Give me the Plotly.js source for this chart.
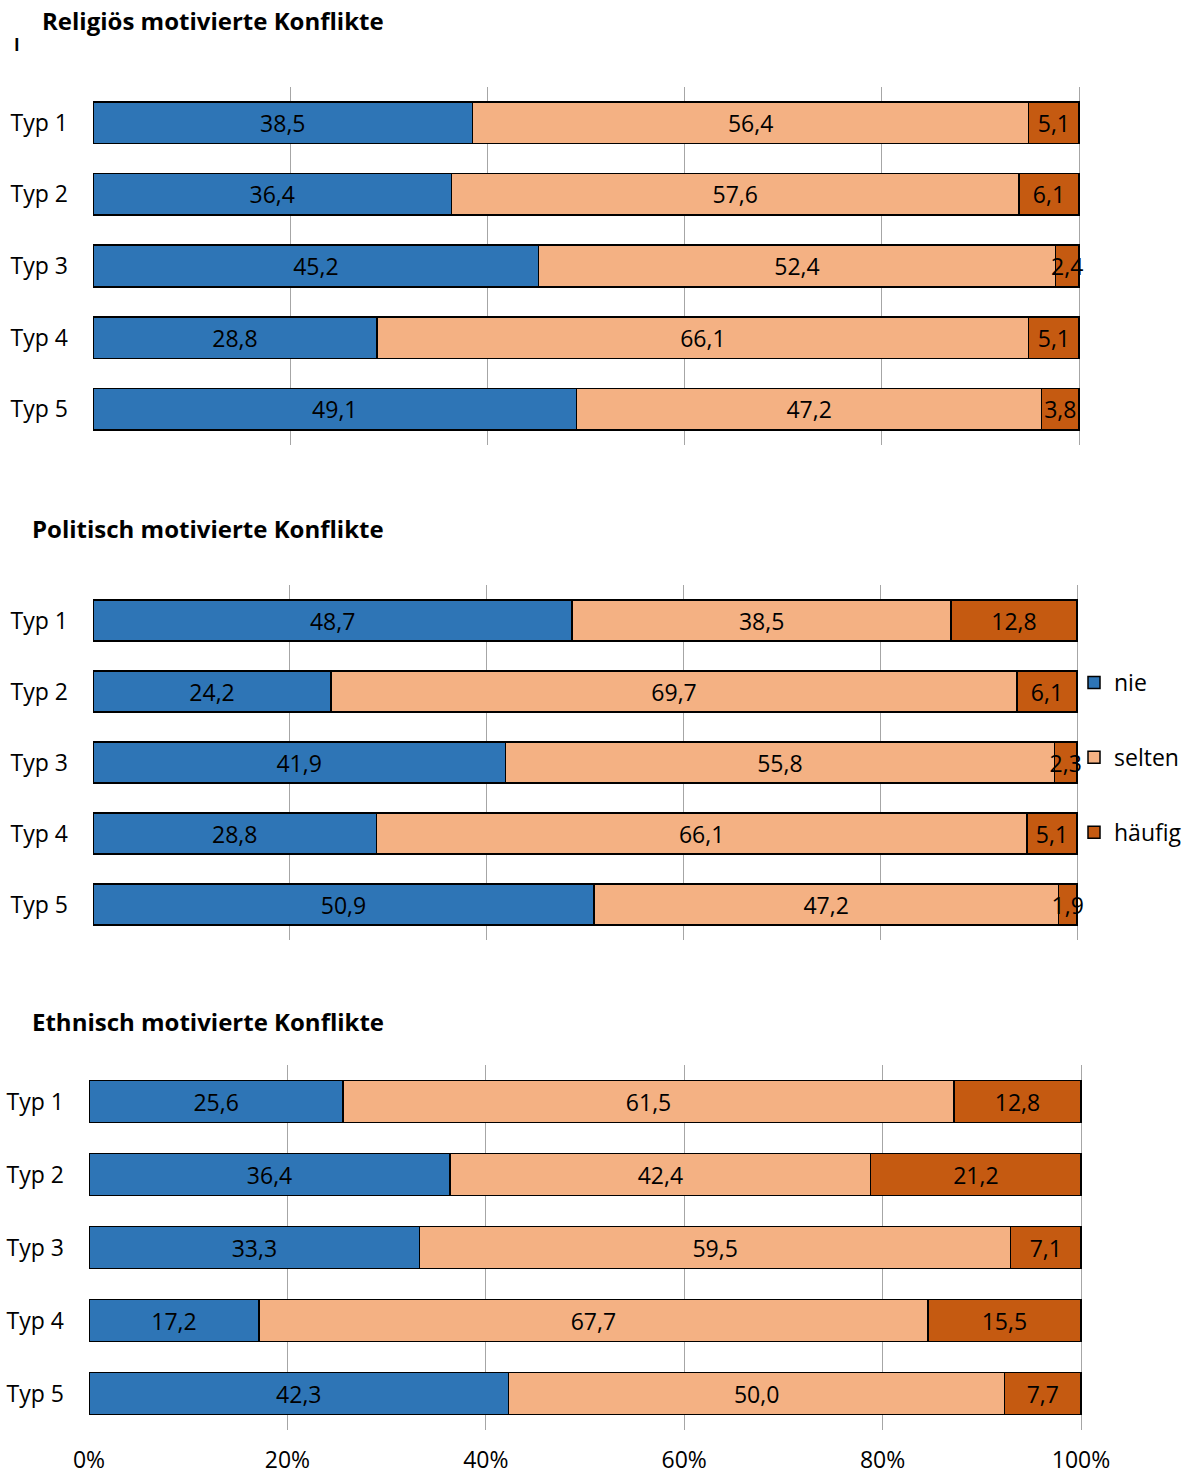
<!DOCTYPE html>
<html>
<head>
<meta charset="utf-8">
<script src="https://cdn.plot.ly/plotly-3.0.1.min.js"></script>
<style>html,body{margin:0;padding:0;background:#fff;}</style>
</head>
<body>
<div id="chart" style="width:1196px;height:1475px;"></div>
<script>
const categories = ["Typ 1", "Typ 2", "Typ 3", "Typ 4", "Typ 5"];
const seriesNames = ["nie", "selten", "häufig"];
const seriesColors = ["#2E75B6", "#F4B183", "#C55A11"];
const panelTitles = ["Religiös motivierte Konflikte", "Politisch motivierte Konflikte", "Ethnisch motivierte Konflikte"];

const religNie    = [38.5, 36.4, 45.2, 28.8, 49.1];
const religSelten = [56.4, 57.6, 52.4, 66.1, 47.2];
const religHaeufig= [5.1, 6.1, 2.4, 5.1, 3.8];

const politNie    = [48.7, 24.2, 41.9, 28.8, 50.9];
const politSelten = [38.5, 69.7, 55.8, 66.1, 47.2];
const politHaeufig= [12.8, 6.1, 2.3, 5.1, 1.9];

const ethnNie     = [25.6, 36.4, 33.3, 17.2, 42.3];
const ethnSelten  = [61.5, 42.4, 59.5, 67.7, 50.0];
const ethnHaeufig = [12.8, 21.2, 7.1, 15.5, 7.7];

const tickVals = [0, 20, 40, 60, 80, 100];
const tickText = ["0%", "20%", "40%", "60%", "80%", "100%"];

const FONT = "'Open Sans', sans-serif";
const FS = 23;
const W = 1196, H = 1475;
const panels = [
  [religNie, religSelten, religHaeufig],
  [politNie, politSelten, politHaeufig],
  [ethnNie, ethnSelten, ethnHaeufig]
];
// pixel geometry of each plot area (0% .. 100%)
const geo = [
  {x0: 93, x1: 1079, y0: 87, y1: 445},
  {x0: 93, x1: 1077, y0: 585, y1: 940},
  {x0: 89, x1: 1081, y0: 1065, y1: 1430}
];
const XMAX = 100.8; // small extra room so overflowing labels are not clipped
const fmt = v => v.toFixed(1).replace(".", ",");

const traces = [];
panels.forEach((vals, p) => {
  vals.forEach((arr, s) => {
    traces.push({
      type: "bar",
      orientation: "h",
      y: categories,
      x: arr,
      name: seriesNames[s],
      legendgroup: seriesNames[s],
      showlegend: p === 0,
      xaxis: p === 0 ? "x" : "x" + (p + 1),
      yaxis: p === 0 ? "y" : "y" + (p + 1),
      marker: {color: seriesColors[s], line: {color: "#000", width: 1.5}},
      text: arr.map(fmt),
      texttemplate: "%{text}",
      textposition: "inside",
      insidetextanchor: "middle",
      constraintext: "none",
      textangle: 0,
      textfont: {family: FONT, size: FS, color: "#000"},
      hoverinfo: "skip"
    });
  });
});

const layout = {
  width: W, height: H,
  margin: {l: 0, r: 0, t: 0, b: 0},
  paper_bgcolor: "#fff", plot_bgcolor: "#fff",
  barmode: "stack",
  barnorm: "percent",
  bargap: 0.42,
  font: {family: FONT, size: FS, color: "#000"},
  showlegend: true,
  legend: {
    x: 1074 / W, y: 1 - 661 / H, xanchor: "left", yanchor: "top",
    font: {family: FONT, size: FS, color: "#000"},
    tracegroupgap: 42, traceorder: "grouped",
    bgcolor: "rgba(0,0,0,0)"
  },
  annotations: [],
  uniformtext: {mode: false}
};

geo.forEach((g, p) => {
  const xa = p === 0 ? "xaxis" : "xaxis" + (p + 1);
  const ya = p === 0 ? "yaxis" : "yaxis" + (p + 1);
  const x1 = g.x0 + (g.x1 - g.x0) * XMAX / 100;
  layout[xa] = {
    domain: [g.x0 / W, x1 / W],
    range: [0, XMAX],
    anchor: p === 0 ? "y" : "y" + (p + 1),
    tickvals: tickVals,
    ticktext: tickText,
    showticklabels: p === 2,
    showgrid: true, gridcolor: "#a6a6a6", gridwidth: 1,
    zeroline: false, showline: false, ticks: "",
    ticklabelstandoff: 14,
    tickfont: {family: FONT, size: FS, color: "#000"},
    fixedrange: true
  };
  layout[ya] = {
    domain: [1 - g.y1 / H, 1 - g.y0 / H],
    anchor: p === 0 ? "x" : "x" + (p + 1),
    type: "category",
    autorange: "reversed",
    showgrid: false, zeroline: false, showline: false, ticks: "",
    ticklabelstandoff: 24,
    tickfont: {family: FONT, size: FS, color: "#000"},
    fixedrange: true
  };
});

const titleY = [20, 528, 1021];
panelTitles.forEach((t, i) => {
  layout.annotations.push({
    text: "<b>" + t + "</b>", xref: "paper", yref: "paper",
    x: 386 / W, y: 1 - titleY[i] / H, xanchor: "right", yanchor: "middle",
    showarrow: false, font: {family: FONT, size: 24, color: "#000"}
  });
});
layout.annotations.push({
  text: "<b>I</b>", xref: "paper", yref: "paper",
  x: 17 / W, y: 1 - 45 / H, xanchor: "center", yanchor: "middle",
  showarrow: false, font: {family: FONT, size: 17, color: "#000"}
});

Plotly.newPlot("chart", traces, layout, {displayModeBar: false, staticPlot: true});
</script>
</body>
</html>
